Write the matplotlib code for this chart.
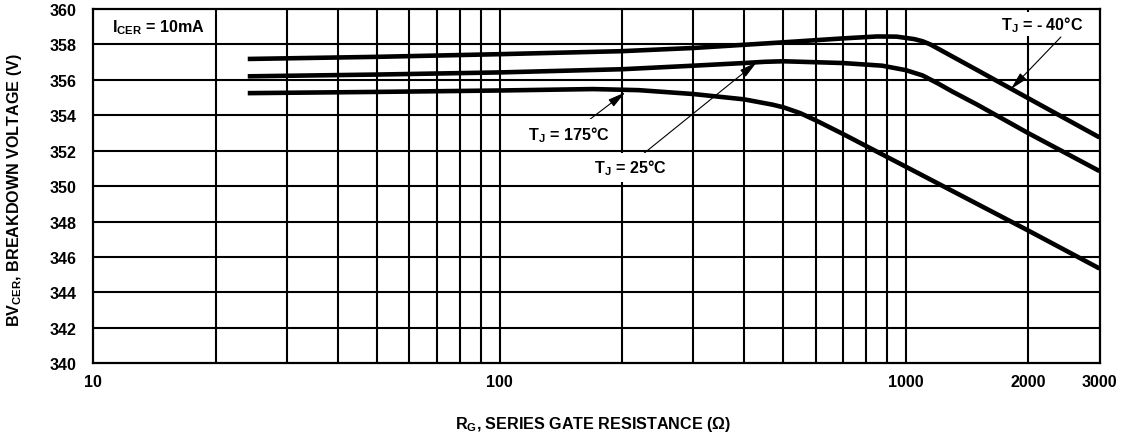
import numpy as np
import matplotlib
matplotlib.rcParams['font.family'] = 'Liberation Sans'
matplotlib.rcParams['font.weight'] = 'bold'
matplotlib.rcParams['mathtext.fontset'] = 'custom'
matplotlib.rcParams['mathtext.rm'] = 'Liberation Sans:bold'
matplotlib.rcParams['mathtext.bf'] = 'Liberation Sans:bold'
matplotlib.rcParams['mathtext.default'] = 'bf'
import matplotlib.pyplot as plt

# series gate resistance (ohm) / breakdown voltage (V)
r_m40 = [24, 50, 100, 200, 300, 400, 500, 700, 850, 950, 1050, 1100, 1150, 1300, 1500, 2000, 3000]
v_m40 = [357.18, 357.3, 357.45, 357.62, 357.8, 357.98, 358.12, 358.34, 358.45, 358.44, 358.3, 358.18, 358.0, 357.33, 356.55, 354.97, 352.75]

r_25 = [24, 50, 100, 200, 300, 400, 450, 500, 700, 875, 1000, 1100, 1200, 1300, 1500, 2000, 3000]
v_25 = [356.2, 356.3, 356.42, 356.6, 356.8, 356.95, 357.02, 357.05, 356.95, 356.8, 356.55, 356.25, 355.8, 355.35, 354.6, 353.0, 350.85]

r_175 = [24, 50, 100, 170, 220, 300, 400, 470, 500, 550, 600, 700, 1000, 2000, 3000]
v_175 = [355.25, 355.32, 355.4, 355.48, 355.42, 355.2, 354.9, 354.6, 354.45, 354.12, 353.72, 352.95, 351.1, 347.5, 345.35]

x_major = [10, 100, 1000, 2000, 3000]
x_major_labels = ['10', '100', '1000', '2000', '3000']
x_minor = [20, 30, 40, 50, 60, 70, 80, 90, 200, 300, 400, 500, 600, 700, 800, 900]
y_ticks = list(range(340, 361, 2))

FS = 11.6

fig = plt.figure(figsize=(11.23, 4.39), dpi=100)
fig.patch.set_facecolor('white')
ax = fig.add_axes([0.0831, 0.1702, 0.8960, 0.8070])

ax.set_xscale('log')
ax.set_xlim(10, 3000)
ax.set_ylim(340, 360)

# grid: every minor decade line plus every 2 V
for xv in x_minor + x_major[1:-1]:
    ax.axvline(xv, color='black', lw=1.5, zorder=1)
for yv in y_ticks[1:-1]:
    ax.axhline(yv, color='black', lw=1.5, zorder=1)

for r, v in [(r_m40, v_m40), (r_25, v_25), (r_175, v_175)]:
    ax.plot(r, v, color='black', lw=3.3, solid_joinstyle='round',
            solid_capstyle='butt', zorder=3)

ax.set_xticks(x_major)
ax.set_xticklabels(x_major_labels)
ax.set_xticks([], minor=True)
ax.set_yticks(y_ticks)
ax.tick_params(axis='both', length=0, labelsize=FS)
ax.tick_params(axis='x', pad=8)
ax.tick_params(axis='y', pad=12)
for s in ax.spines.values():
    s.set_linewidth(1.6)
    s.set_zorder(4)

# ── annotations ──────────────────────────────────────────────────────────────
ax.text(11.1, 358.98, r'I$_{CER}$ = 10mA', fontsize=FS, ha='left', va='center')

arrow = dict(arrowstyle='-|>,head_length=0.9,head_width=0.22', color='black',
             lw=0.8, shrinkA=0, shrinkB=0, mutation_scale=12)
box = dict(boxstyle='square,pad=0.3', fc='white', ec='none')

ax.annotate('', xy=(204, 355.3), xytext=(160, 353.45), arrowprops=arrow, zorder=5)
ax.text(147.8, 352.94, r'T$_J$ = 175°C', fontsize=FS, ha='center', va='center',
        bbox=box, zorder=5)

ax.annotate('', xy=(430, 357.0), xytext=(227, 351.86), arrowprops=arrow, zorder=5)
ax.text(209.4, 351.07, r'T$_J$ = 25°C', fontsize=FS, ha='center', va='center',
        bbox=box, zorder=5)

ax.annotate('', xy=(1815, 355.48), xytext=(2410, 358.42), arrowprops=arrow, zorder=5)
ax.text(2163, 359.15, r'T$_J$ = - 40°C', fontsize=FS, ha='center', va='center',
        bbox=dict(boxstyle='square,pad=0.15', fc='white', ec='none'), zorder=5)

# axis titles
fig.text(593 / 1123, 1 - 425 / 439, r'R$_G$, SERIES GATE RESISTANCE (Ω)',
         fontsize=FS, ha='center', va='center')
fig.text(15 / 1123, 1 - 190 / 439, r'BV$_{CER}$, BREAKDOWN VOLTAGE (V)',
         fontsize=FS, ha='center', va='center', rotation=90)

plt.savefig('out.png', dpi=100, facecolor='white')
